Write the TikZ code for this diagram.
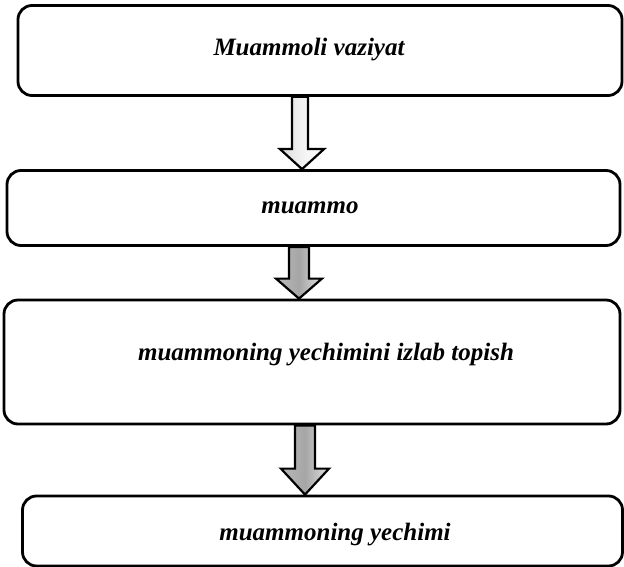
\documentclass[tikz,border=0pt]{standalone}
\usepackage{fontspec}
\setmainfont{Liberation Serif}
\usetikzlibrary{calc}
\begin{document}
\begin{tikzpicture}[x=1pt,y=-1pt,
  box/.style={draw=black, line width=2.8pt, rounded corners=14pt, inner sep=0pt},
  lbl/.style={font=\fontsize{25}{30}\selectfont\bfseries\itshape, inner sep=0pt},
  arrlight/.style={draw=black, line width=2.2pt, line join=miter, left color=gray!30, right color=white, middle color=gray!10},
  arrdark/.style={draw=black, line width=2.2pt, line join=miter, left color=gray!55, right color=gray!25, middle color=gray!70}
]
\useasboundingbox (0,0) rectangle (624,567);
% boxes
\node[box, minimum width=604pt, minimum height=90pt] (b1) at (320,50.5) {};
\node[box, minimum width=613pt, minimum height=75pt] (b2) at (313.5,208) {};
\node[box, minimum width=616pt, minimum height=124pt] (b3) at (312,362) {};
\node[box, minimum width=600pt, minimum height=70pt] (b4) at (322.5,531) {};
% labels
\node[lbl] (t1) at (309,50) {Muammoli vaziyat};
\node[lbl] (t2) at (310,208) {muammo};
\node[lbl] (t3) at (326,355) {muammoning yechimini izlab topish};
\node[lbl] (t4) at (335,535) {muammoning yechimi};
% arrows (block arrows between boxes)
\path let \p1=(b1.south), \p2=(b2.north) in
  coordinate (a1s) at (300,\y1) coordinate (a1e) at (302,\y2);
\filldraw[arrlight] ($(a1s)+(-8,0)$) -- ($(a1s)+(8,0)$) -- ($(a1e)+(6,-20)$) -- ($(a1e)+(22,-20)$)
  -- (a1e) -- ($(a1e)+(-22,-20)$) -- ($(a1e)+(-10,-20)$) -- cycle;
\path let \p1=(b2.south), \p2=(b3.north) in
  coordinate (a2s) at (299,\y1) coordinate (a2e) at (299,\y2);
\filldraw[arrdark] ($(a2s)+(-10,0)$) -- ($(a2s)+(10,0)$) -- ($(a2e)+(10,-20)$) -- ($(a2e)+(23,-20)$)
  -- (a2e) -- ($(a2e)+(-23,-20)$) -- ($(a2e)+(-10,-20)$) -- cycle;
\path let \p1=(b3.south), \p2=(b4.north) in
  coordinate (a3s) at (305,\y1) coordinate (a3e) at (305,\y2);
\filldraw[arrdark] ($(a3s)+(-10,0)$) -- ($(a3s)+(10,0)$) -- ($(a3e)+(10,-26)$) -- ($(a3e)+(24,-26)$)
  -- (a3e) -- ($(a3e)+(-24,-26)$) -- ($(a3e)+(-10,-26)$) -- cycle;
\end{tikzpicture}
\end{document}
